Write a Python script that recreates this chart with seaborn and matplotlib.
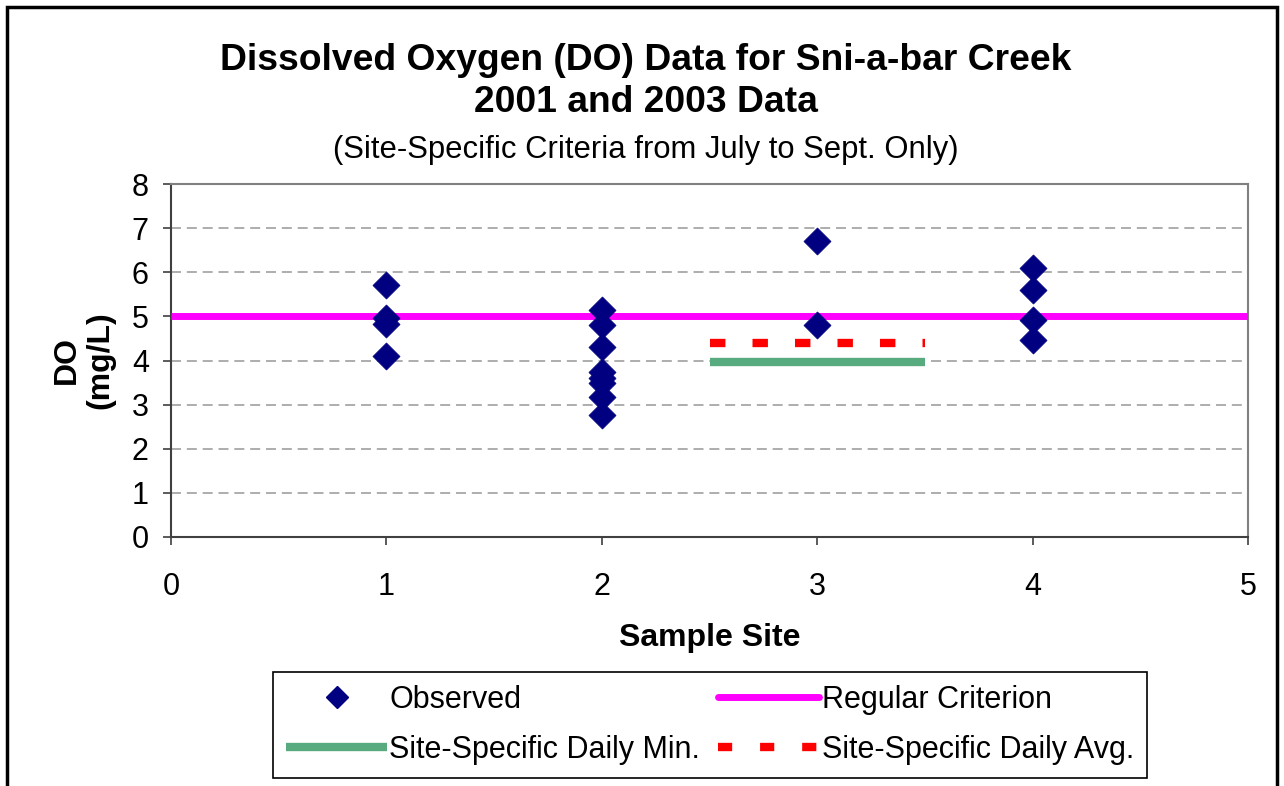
import matplotlib
matplotlib.use("Agg")
import matplotlib.pyplot as plt
import seaborn as sns
import pandas as pd
from matplotlib.patches import Rectangle
from matplotlib.lines import Line2D

# ---- data ----
site_ids = [1, 2, 3, 4]
site1_do = [5.72, 4.97, 4.83, 4.10]
site2_do = [5.15, 4.81, 4.31, 3.74, 3.60, 3.49, 3.17, 2.77]
site3_do = [6.71, 4.80]
site4_do = [6.10, 5.60, 4.92, 4.47]

regular_x = [0, 5]
regular_y = [5, 5]
min_x = [2.5, 3.5]
min_y = [3.97, 3.97]
avg_x = [2.5, 3.5]
avg_y = [4.4, 4.4]

x_ticks = [0, 1, 2, 3, 4, 5]
y_ticks = [0, 1, 2, 3, 4, 5, 6, 7, 8]

title1 = "Dissolved Oxygen (DO) Data for Sni-a-bar Creek"
title2 = "2001 and 2003 Data"
title3 = "(Site-Specific Criteria from July to Sept. Only)"

obs = pd.DataFrame({
    "site": [1]*len(site1_do) + [2]*len(site2_do) + [3]*len(site3_do) + [4]*len(site4_do),
    "DO": site1_do + site2_do + site3_do + site4_do,
})

sns.set_theme(style="white")
plt.rcParams["font.family"] = ["Liberation Sans", "DejaVu Sans"]

fig = plt.figure(figsize=(12.84, 7.86), dpi=100)
ax = fig.add_axes([171/1284, 1-537/786, (1248-171)/1284, (537-184)/786])

# grid
for yv in y_ticks[1:-1]:
    ax.axhline(yv, color="#a0a0a0", lw=1.2, dashes=(6, 3.5), zorder=0)

# lines
l_min = sns.lineplot(x=min_x, y=min_y, ax=ax, color="#58ab7f", lw=6, zorder=2).lines[-1]
l_min.set_solid_capstyle("butt")
l_avg = sns.lineplot(x=avg_x, y=avg_y, ax=ax, color="#ff0000", lw=6, zorder=2).lines[-1]
l_avg.set_dashes((1.85, 3.25))
l_avg.set_dash_capstyle("butt")
l_reg = sns.lineplot(x=regular_x, y=regular_y, ax=ax, color="#ff00ff", lw=5, zorder=3).lines[-1]
l_reg.set_solid_capstyle("butt")

# observed points
sns.scatterplot(data=obs, x="site", y="DO", ax=ax, marker="D", s=190,
                color="#000080", edgecolor="#000080", linewidth=0.5, zorder=4)

ax.set_xlim(0, 5)
ax.set_ylim(0, 8)
ax.set_xticks(x_ticks)
ax.set_yticks(y_ticks)
ax.tick_params(axis="both", which="major", direction="out", length=6, width=1.2,
               color="#404040", labelsize=22, labelcolor="black", bottom=True, left=True)
ax.tick_params(axis="x", pad=19)
ax.tick_params(axis="y", pad=10)

for s in ["top", "right"]:
    ax.spines[s].set_color("#808080")
    ax.spines[s].set_linewidth(1.5)
for s in ["left", "bottom"]:
    ax.spines[s].set_color("#404040")
    ax.spines[s].set_linewidth(1.5)

ax.set_xlabel("Sample Site", fontsize=23, fontweight="bold", labelpad=15, color="black")
ax.set_ylabel("DO\n(mg/L)", fontsize=23, fontweight="bold", labelpad=12, color="black",
              linespacing=1.15)

# titles
cx = 646/1284
fig.text(cx, 1-61/786, title1, ha="center", va="center",
         fontsize=26.8, fontweight="bold", color="black")
fig.text(cx, 1-103/786, title2, ha="center", va="center",
         fontsize=26.8, fontweight="bold", color="black")
fig.text(cx, 1-150/786, title3, ha="center", va="center",
         fontsize=22.3, color="black")

# legend
h_obs = Line2D([], [], ls="none", marker="D", ms=11, color="#000080")
h_min = Line2D([], [], color="#58ab7f", lw=6, solid_capstyle="butt")
h_reg = Line2D([], [], color="#ff00ff", lw=5, solid_capstyle="round")
h_avg = Line2D([], [], color="#ff0000", lw=6, dashes=(1.7, 3.35), dash_capstyle="butt")
leg = fig.legend([h_obs, h_min, h_reg, h_avg],
                 ["Observed", "Site-Specific Daily Min.", "Regular Criterion", "Site-Specific Daily Avg."],
                 loc="lower left",
                 bbox_to_anchor=(273/1284, 1-778/786, (1147-273)/1284, (778-673)/786),
                 mode="expand", ncol=2, fontsize=22, frameon=True, fancybox=False,
                 framealpha=1, edgecolor="black", handlelength=3.3, handletextpad=0.08,
                 columnspacing=0.4, borderaxespad=0, labelspacing=0.65, borderpad=0.43)
leg.get_frame().set_linewidth(1.2)
for t in leg.get_texts():
    t.set_color("black")

# outer border
fig.add_artist(Rectangle((7/1284, -0.05), (1277-7)/1284, 1-7/786+0.05,
                         transform=fig.transFigure, fill=False, lw=2.5, ec="black"))

fig.savefig("out.png", dpi=100, facecolor="white")
